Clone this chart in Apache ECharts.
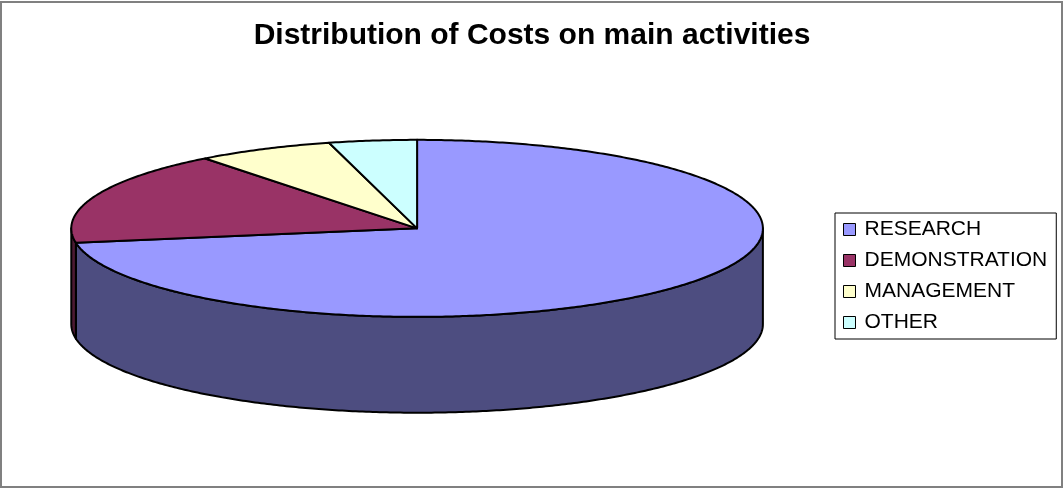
<!DOCTYPE html>
<html>
<head>
<meta charset="utf-8">
<script src="https://cdn.jsdelivr.net/npm/echarts@6/dist/echarts.min.js"></script>
<style>
html,body{margin:0;padding:0;background:#fff;}
#chart{width:1064px;height:489px;}
</style>
</head>
<body>
<div id="chart"></div>
<script>
const categories = ['RESEARCH', 'DEMONSTRATION', 'MANAGEMENT', 'OTHER'];
const values = [72.4, 17.1, 6.4, 4.1];
const topColors = ['#9999FF', '#993366', '#FFFFCC', '#CCFFFF'];
const sideColors = ['#4D4D80', '#4D1A33', '#80805F', '#5F8080'];

const total = values.reduce((a, b) => a + b, 0);
const starts = [];
values.reduce((acc, v, i) => { starts[i] = acc; return acc + v; }, 0);

const chart = echarts.init(document.getElementById('chart'), null, { renderer: 'canvas' });

function makeRender(idx) {
  return function (params, api) {
    const W = api.getWidth(), H = api.getHeight();
    const cx = W * 0.392, cy = H * 0.467, rx = W * 0.325, ry = H * 0.181, depth = H * 0.196;
    const val = api.value(0), st = api.value(1);
    const a0 = st / total * Math.PI * 2;
    const a1 = (st + val) / total * Math.PI * 2;
    const pt = (a, dy) => [cx + rx * Math.sin(a), cy - ry * Math.cos(a) + dy];
    const arc = (from, to, dy) => {
      const n = Math.max(2, Math.ceil(Math.abs(to - from) / 0.01));
      const out = [];
      for (let k = 0; k <= n; k++) out.push(pt(from + (to - from) * k / n, dy));
      return out;
    };
    const children = [];
    const s = Math.max(a0, Math.PI / 2), e = Math.min(a1, Math.PI * 1.5);
    if (s < e) {
      const pts = arc(s, e, 0).concat(arc(e, s, depth));
      children.push({
        type: 'polygon', z2: 1,
        shape: { points: pts },
        style: { fill: sideColors[idx], stroke: '#000', lineWidth: 2, lineJoin: 'round' }
      });
    }
    const topPts = [[cx, cy]].concat(arc(a0, a1, 0));
    children.push({
      type: 'polygon', z2: 10,
      shape: { points: topPts },
      style: { fill: topColors[idx], stroke: '#000', lineWidth: 2, lineJoin: 'round' }
    });
    return { type: 'group', children: children };
  };
}

const series = categories.map((name, i) => ({
  type: 'custom',
  name: name,
  coordinateSystem: 'none',
  itemStyle: { color: topColors[i] },
  data: [[values[i], starts[i]]],
  renderItem: makeRender(i),
  animation: false,
  silent: true
}));

chart.setOption({
  animation: false,
  backgroundColor: '#fff',
  title: {
    text: 'Distribution of Costs on main activities',
    left: 'center', top: 16,
    textStyle: { fontFamily: 'Liberation Sans, Arial, sans-serif', fontSize: 30, fontWeight: 'bold', color: '#000' }
  },
  legend: {
    orient: 'vertical',
    left: 835, top: 213,
    padding: [6, 9, 6, 8],
    itemGap: 10,
    itemWidth: 12, itemHeight: 12,
    icon: 'rect',
    borderColor: '#000', borderWidth: 1,
    backgroundColor: '#fff',
    itemStyle: { borderColor: '#000', borderWidth: 1 },
    textStyle: { fontFamily: 'Liberation Sans, Arial, sans-serif', fontSize: 21, color: '#000', padding: [0, 0, 0, 4] },
    data: categories,
    selectedMode: false
  },
  graphic: [{
    type: 'rect', silent: true, z: -1,
    shape: { x: 1, y: 2, width: 1061, height: 485 },
    style: { fill: 'none', stroke: '#808080', lineWidth: 2 }
  }],
  series: series
});
</script>
</body>
</html>
